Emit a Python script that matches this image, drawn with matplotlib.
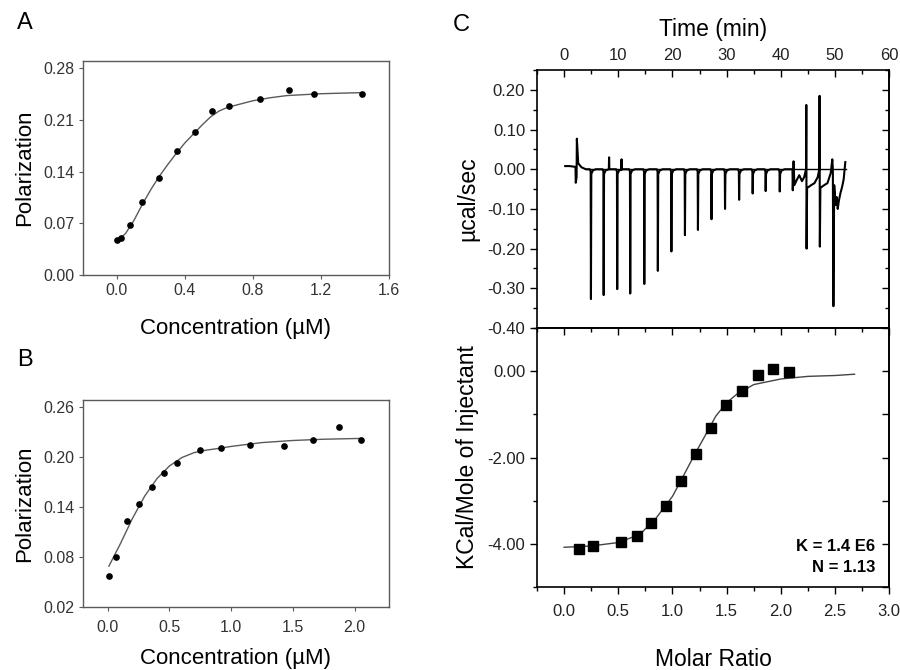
import matplotlib
matplotlib.use("Agg")
import matplotlib.pyplot as plt
from matplotlib.ticker import MultipleLocator, FixedLocator, FormatStrFormatter

plt.rcParams['font.family'] = ['Liberation Sans', 'DejaVu Sans']
plt.rcParams['axes.unicode_minus'] = False

# Panel A - polarization vs concentration
a_x = [0.0, 0.023, 0.078, 0.15, 0.245, 0.352, 0.46, 0.561, 0.657, 0.843, 1.009, 1.16, 1.44]
a_y = [0.047, 0.0495, 0.0675, 0.0995, 0.132, 0.1675, 0.193, 0.2215, 0.229, 0.238, 0.250, 0.245, 0.245]
a_fit_x = [0.0, 0.05, 0.1, 0.15, 0.2, 0.25, 0.3, 0.35, 0.4, 0.45, 0.5, 0.55, 0.6, 0.65, 0.7, 0.8, 0.9, 1.0, 1.2, 1.44]
a_fit_y = [0.046, 0.056, 0.074, 0.096, 0.116, 0.134, 0.150, 0.165, 0.179, 0.191, 0.203, 0.214, 0.222, 0.227,
           0.230, 0.236, 0.240, 0.243, 0.2455, 0.247]

# Panel B
b_x = [0.008, 0.065, 0.156, 0.253, 0.358, 0.458, 0.56, 0.748, 0.92, 1.155, 1.427, 1.664, 1.873, 2.054]
b_y = [0.0577, 0.080, 0.1227, 0.144, 0.164, 0.1807, 0.1926, 0.2085, 0.2104, 0.214, 0.2132, 0.220, 0.2362, 0.2195]
b_fit_x = [0.01, 0.1, 0.2, 0.3, 0.4, 0.5, 0.6, 0.7, 0.8, 0.9, 1.0, 1.25, 1.5, 1.75, 2.06]
b_fit_y = [0.069, 0.095, 0.126, 0.153, 0.174, 0.189, 0.199, 0.205, 0.208, 0.210, 0.2124, 0.217, 0.2195, 0.221, 0.222]

# Panel C top - ITC thermogram
start_t = [0.2, 1.0, 2.1, 2.15, 2.3, 2.35, 2.6, 3.2, 4.0]
start_y = [0.008, 0.008, 0.006, -0.034, -0.02, 0.077, 0.015, 0.005, 0.0]
inj_t = [4.95, 7.3, 9.8, 12.2, 14.8, 17.3, 19.8, 22.3, 24.7, 27.2, 29.7, 32.3, 34.8, 37.2, 39.8]
inj_min = [-0.327, -0.317, -0.302, -0.313, -0.289, -0.256, -0.207, -0.166, -0.153, -0.126,
           -0.100, -0.077, -0.061, -0.055, -0.056]
up_t = [8.3, 10.6]
up_max = [0.03, 0.025]
end_t = [41.9, 42.15, 42.2, 42.35, 42.5, 42.9, 43.4, 43.9, 44.3, 44.65, 44.7, 44.75, 44.85, 45.1, 45.6, 46.2,
         46.8, 47.1, 47.15, 47.2, 47.3, 47.5, 48.0, 48.6, 49.2, 49.5, 49.6, 49.7, 49.85, 50.1, 50.3, 50.5,
         50.7, 51.0, 51.3, 51.6, 51.9]
end_y = [0.0, 0.0, -0.053, 0.02, -0.04, -0.028, -0.015, -0.03, -0.02, 0.0, 0.162, -0.20, -0.045, -0.045,
         -0.04, -0.035, -0.02, 0.0, 0.185, -0.195, -0.045, -0.045, -0.04, -0.035, -0.01, 0.025, 0.0, -0.345,
         -0.04, -0.09, -0.07, -0.10, -0.08, -0.06, -0.045, -0.025, 0.018]
baseline_t = [4.0, 52.0]
baseline_y = [0.0, 0.0]

# Panel C bottom - integrated heats
c_x = [0.14, 0.264, 0.527, 0.67, 0.80, 0.94, 1.083, 1.219, 1.359, 1.498, 1.64, 1.79, 1.932, 2.078]
c_y = [-4.13, -4.04, -3.95, -3.82, -3.51, -3.13, -2.55, -1.915, -1.313, -0.772, -0.463, -0.093, 0.054, -0.023]
c_fit_x = [0.0, 0.25, 0.5, 0.7, 0.85, 1.0, 1.1, 1.2, 1.3, 1.4, 1.5, 1.6, 1.75, 2.0, 2.25, 2.5, 2.68]
c_fit_y = [-4.08, -4.05, -3.97, -3.78, -3.40, -2.90, -2.43, -1.95, -1.50, -1.04, -0.73, -0.52, -0.31,
           -0.18, -0.12, -0.10, -0.07]

# build thermogram trace from the read values
events = []
for t, lo in zip(inj_t, inj_min):
    events.append((t, [(-0.2, 0.0), (-0.05, -0.006), (0.0, lo), (0.07, -0.012), (0.35, -0.003), (0.9, 0.0)]))
for t, hi in zip(up_t, up_max):
    events.append((t, [(-0.05, 0.0), (0.0, hi), (0.05, 0.0)]))
events.sort(key=lambda e: e[0])
trace_t = list(start_t)
trace_y = list(start_y)
for t, shape in events:
    for dt, v in shape:
        trace_t.append(t + dt)
        trace_y.append(v)
trace_t += end_t
trace_y += end_y

fig = plt.figure(figsize=(9, 6.7), dpi=100)

grey = '#5a5a5a'

def style_small(ax):
    for s in ax.spines.values():
        s.set_color(grey)
        s.set_linewidth(1.0)
    ax.tick_params(direction='out', length=3, width=0.8, color=grey, labelsize=11.5,
                   labelcolor='#333333', pad=3)

axA = fig.add_axes([0.0922, 0.5896, 0.340, 0.319])
axA.plot(a_fit_x, a_fit_y, color=grey, lw=1.0)
axA.plot(a_x, a_y, 'o', color='black', ms=3.8)
axA.set_xlim(-0.2, 1.6)
axA.set_ylim(0.0, 0.2895)
axA.set_xticks([0.0, 0.4, 0.8, 1.2, 1.6])
axA.set_yticks([0.0, 0.07, 0.14, 0.21, 0.28])
axA.xaxis.set_major_formatter(FormatStrFormatter('%.1f'))
axA.yaxis.set_major_formatter(FormatStrFormatter('%.2f'))
style_small(axA)
axA.set_xlabel('Concentration (µM)', fontsize=16, labelpad=14)
axA.set_ylabel('Polarization', fontsize=16, labelpad=6)

axB = fig.add_axes([0.0922, 0.094, 0.340, 0.309])
axB.plot(b_fit_x, b_fit_y, color=grey, lw=1.0)
axB.plot(b_x, b_y, 'o', color='black', ms=3.8)
axB.set_xlim(-0.2, 2.277)
axB.set_ylim(0.02, 0.268)
axB.set_xticks([0.0, 0.5, 1.0, 1.5, 2.0])
axB.set_yticks([0.02, 0.08, 0.14, 0.20, 0.26])
axB.xaxis.set_major_formatter(FormatStrFormatter('%.1f'))
axB.yaxis.set_major_formatter(FormatStrFormatter('%.2f'))
style_small(axB)
axB.tick_params(axis='x', pad=6)
axB.set_xlabel('Concentration (µM)', fontsize=16, labelpad=10)
axB.set_ylabel('Polarization', fontsize=16, labelpad=6)

# ITC panels
axC1 = fig.add_axes([0.5967, 0.5104, 0.3913, 0.3851])
axC2 = fig.add_axes([0.5967, 0.1239, 0.3913, 0.3865])

axC1.plot(baseline_t, baseline_y, color='black', lw=1.0)
axC1.plot(trace_t, trace_y, color='black', lw=1.5)
axC1.set_xlim(-5, 60)
axC1.set_ylim(-0.40, 0.25)
axC1.xaxis.set_major_locator(MultipleLocator(10))
axC1.xaxis.set_minor_locator(MultipleLocator(5))
c1_yticks = [-0.4, -0.3, -0.2, -0.1, 0.0, 0.1, 0.2]
axC1.yaxis.set_major_locator(FixedLocator(c1_yticks))
axC1.yaxis.set_minor_locator(MultipleLocator(0.05))
axC1.yaxis.set_major_formatter(FormatStrFormatter('%.2f'))
axC1.tick_params(axis='x', which='both', direction='in', top=True, bottom=False,
                 labeltop=True, labelbottom=False, pad=5)
axC1.tick_params(axis='y', which='both', direction='out', left=True, right=False)
axC1.tick_params(labelsize=12, labelcolor='#222222')
axC1.tick_params(which='major', length=5, width=1.0)
axC1.tick_params(which='minor', length=3, width=1.0)
axC1.xaxis.set_label_position('top')
axC1.set_xlabel('Time (min)', fontsize=16.5, labelpad=9)
axC1.set_ylabel('µcal/sec', fontsize=16.5, labelpad=6)
c1_right = axC1.secondary_yaxis('right')
c1_right.yaxis.set_major_locator(FixedLocator(c1_yticks))
c1_right.yaxis.set_minor_locator(MultipleLocator(0.05))
c1_right.tick_params(which='both', direction='in', labelright=False)
c1_right.tick_params(which='major', length=5, width=1.0)
c1_right.tick_params(which='minor', length=3, width=1.0)

axC2.plot(c_fit_x, c_fit_y, color='#444444', lw=1.0)
axC2.plot(c_x, c_y, 's', color='black', ms=6.5)
axC2.set_xlim(-0.25, 3.0)
axC2.set_ylim(-5.0, 1.0)
axC2.xaxis.set_major_locator(MultipleLocator(0.5))
axC2.xaxis.set_minor_locator(MultipleLocator(0.25))
axC2.xaxis.set_major_formatter(FormatStrFormatter('%.1f'))
axC2.yaxis.set_major_locator(FixedLocator([-4.0, -2.0, 0.0]))
axC2.yaxis.set_minor_locator(FixedLocator([-5.0, -3.0, -1.0, 1.0]))
axC2.yaxis.set_major_formatter(FormatStrFormatter('%.2f'))
axC2.tick_params(which='both', direction='out', top=False, bottom=True, left=True, right=False,
                 labelsize=12, labelcolor='#222222')
axC2.tick_params(axis='x', pad=7)
axC2.tick_params(which='major', length=5, width=1.0)
axC2.tick_params(which='minor', length=3, width=1.0)
axC2.set_xlabel('Molar Ratio', fontsize=16.5, labelpad=21)
axC2.set_ylabel('KCal/Mole of Injectant', fontsize=16.5, labelpad=6)
c2_top = axC2.secondary_xaxis('top')
c2_top.xaxis.set_major_locator(MultipleLocator(0.5))
c2_top.xaxis.set_minor_locator(MultipleLocator(0.25))
c2_top.tick_params(which='both', direction='in', labeltop=False)
c2_top.tick_params(which='major', length=5, width=1.0)
c2_top.tick_params(which='minor', length=3, width=1.0)
c2_right = axC2.secondary_yaxis('right')
c2_right.yaxis.set_major_locator(FixedLocator([-5.0, -4.0, -3.0, -2.0, -1.0, 0.0, 1.0]))
c2_right.tick_params(which='both', direction='in', labelright=False, length=5, width=1.0)
axC2.text(0.96, 0.116, 'K = 1.4 E6\nN = 1.13', transform=axC2.transAxes, ha='right', va='center',
          fontsize=12, fontweight='bold', linespacing=1.45)

for ax in (axC1, axC2, c1_right, c2_top, c2_right):
    for s in ax.spines.values():
        s.set_linewidth(1.2)

fig.text(0.028, 0.965, 'A', fontsize=17, ha='center', va='center')
fig.text(0.028, 0.463, 'B', fontsize=17, ha='center', va='center')
fig.text(0.513, 0.962, 'C', fontsize=17, ha='center', va='center')

fig.savefig('out.png', dpi=100)
